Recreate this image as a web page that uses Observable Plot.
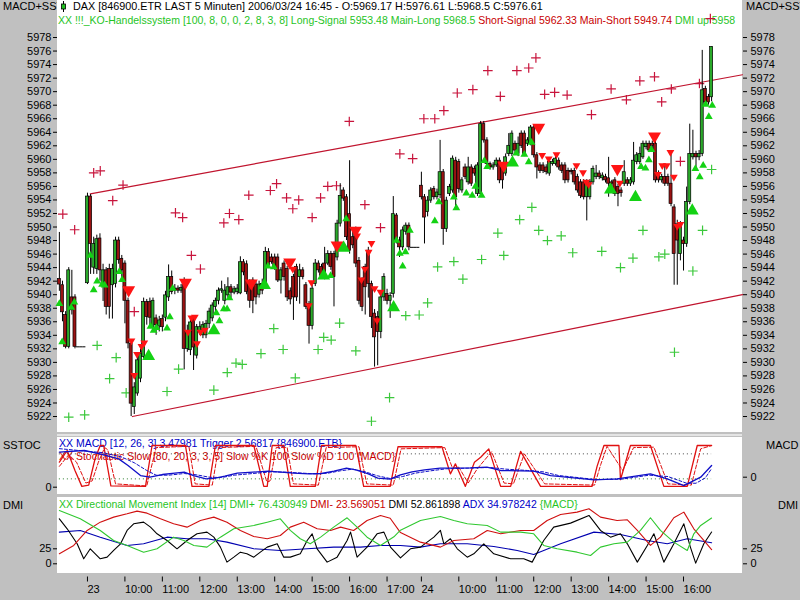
<!DOCTYPE html>
<html><head><meta charset="utf-8">
<script src="https://cdn.jsdelivr.net/npm/d3@7"></script>
<script src="https://cdn.jsdelivr.net/npm/@observablehq/plot@0.6"></script>
<style>
html,body{margin:0;padding:0;background:#c0c0c0;}
#wrap{position:relative;width:800px;height:600px;overflow:hidden;background:#c0c0c0;font-family:"Liberation Sans",Arial,sans-serif;font-size:11px;color:#000;}
.panel{position:absolute;background:#fff;overflow:hidden;}
.lbl{position:absolute;white-space:nowrap;line-height:12px;}
.sm{font-size:10.5px;}
</style></head><body><div id="wrap"></div>
<script>
// ---------------- DATA ----------------
const barOpen = [5942.3,5941.4,5937.0,5932.3,5939.6,5939.6,5932.3,5932.3,5932.3,5941.7,
5954.5,5944.0,5943.8,5948.3,5941.5,5943.6,5943.8,5941.4,5941.6,5948.0,
5945.3,5944.6,5939.1,5932.7,5923.4,5925.4,5927.6,5930.8,5938.9,5938.9,
5935.2,5936.5,5935.3,5936.4,5936.6,5939.6,5942.6,5940.6,5940.9,5940.6,
5942.1,5932.0,5931.8,5936.4,5931.0,5934.5,5934.0,5934.0,5935.7,5936.5,
5938.2,5939.1,5940.6,5939.1,5939.9,5941.1,5940.3,5940.4,5940.2,5944.8,
5944.5,5941.8,5942.1,5941.5,5940.0,5941.6,5941.6,5946.3,5945.5,5945.5,
5945.5,5942.1,5944.6,5943.8,5940.5,5942.6,5944.1,5942.6,5943.6,5941.4,
5938.6,5935.4,5941.6,5944.6,5944.1,5944.6,5944.6,5946.0,5946.0,5945.5,
5950.5,5955.4,5954.4,5951.9,5948.5,5949.5,5945.0,5942.1,5944.1,5946.5,
5941.6,5937.2,5936.7,5934.5,5939.6,5940.1,5939.1,5940.1,5951.7,5948.0,
5947.0,5949.3,5950.2,5947.0,5947.0,5947.0,5956.1,5954.4,5952.2,5953.9,
5955.6,5954.4,5954.7,5958.1,5949.7,5954.9,5955.4,5959.8,5959.6,5955.4,
5958.8,5956.6,5958.8,5958.6,5954.9,5954.9,5965.2,5962.8,5959.3,5958.8,
5959.1,5959.8,5958.8,5957.9,5960.8,5960.8,5962.3,5960.8,5963.8,5963.8,
5962.3,5962.3,5964.7,5960.6,5959.1,5959.1,5958.8,5957.9,5959.3,5959.3,
5959.8,5959.1,5959.1,5958.3,5958.3,5958.3,5957.4,5956.6,5956.6,5954.4,
5954.4,5956.6,5957.4,5957.9,5957.2,5957.4,5957.2,5956.6,5956.9,5955.9,
5955.4,5956.4,5956.9,5956.4,5956.6,5959.6,5959.6,5960.3,5961.8,5962.3,
5962.3,5962.3,5957.9,5956.9,5957.4,5957.4,5956.4,5952.9,5950.4,5946.0,
5948.0,5947.5,5953.7,5960.3,5960.8,5960.3,5960.8,5970.4,5969.2,5969.17];
const barClose = [5941.5,5937.4,5932.3,5943.6,5937.7,5932.3,5932.3,5932.3,5932.3,5954.5,
5947.5,5947.5,5948.2,5943.6,5943.6,5938.2,5938.2,5943.8,5948.0,5945.1,
5943.6,5939.1,5932.8,5923.9,5926.3,5930.3,5931.3,5938.9,5936.7,5936.6,
5939.1,5935.5,5936.2,5935.2,5939.9,5942.6,5940.4,5940.9,5940.6,5941.0,
5932.0,5934.5,5935.9,5932.2,5935.2,5935.2,5935.5,5935.7,5937.5,5938.4,
5939.1,5940.6,5940.8,5940.6,5941.1,5940.3,5940.8,5940.9,5944.8,5943.3,
5940.4,5939.1,5939.1,5939.6,5941.5,5940.6,5946.3,5944.3,5944.8,5944.1,
5942.1,5943.6,5942.6,5939.6,5939.3,5939.6,5939.6,5943.6,5942.6,5938.2,
5935.4,5940.9,5944.6,5943.6,5942.8,5942.6,5946.0,5944.1,5942.6,5950.5,
5954.6,5954.2,5948.5,5946.5,5947.3,5944.6,5939.1,5938.2,5941.1,5941.6,
5936.7,5933.7,5934.5,5939.6,5942.6,5939.1,5939.8,5951.9,5948.0,5947.0,
5949.5,5950.2,5947.0,5947.0,5947.0,5947.0,5954.4,5951.4,5953.9,5955.4,
5954.4,5955.1,5958.1,5949.7,5953.9,5955.9,5960.1,5954.4,5955.6,5956.9,
5957.4,5958.8,5956.4,5957.9,5959.1,5965.2,5962.8,5959.3,5958.8,5959.1,
5959.8,5956.9,5956.9,5960.3,5962.0,5963.8,5961.3,5962.3,5962.0,5960.8,
5962.8,5964.7,5960.6,5958.8,5958.3,5958.3,5958.1,5959.6,5959.6,5960.1,
5958.8,5958.3,5956.9,5956.9,5958.1,5956.6,5955.4,5954.6,5954.4,5956.6,
5956.6,5958.6,5957.9,5957.4,5957.6,5956.9,5956.4,5956.4,5954.9,5954.9,
5955.0,5958.1,5956.4,5956.9,5959.8,5960.6,5960.8,5962.3,5962.3,5961.3,
5962.0,5956.9,5956.9,5957.4,5956.4,5956.4,5953.4,5946.0,5948.0,5950.4,
5947.5,5953.7,5960.8,5960.8,5960.3,5960.8,5970.2,5968.4,5968.4,5976.61];
const barHigh = [5949.2,5942.0,5937.5,5944.0,5943.6,5940.0,5932.3,5932.3,5932.3,5955.0,
5954.8,5948.5,5948.8,5949.0,5944.5,5944.0,5944.5,5944.5,5948.5,5948.5,
5945.8,5945.0,5939.5,5933.0,5927.0,5931.0,5932.0,5939.5,5939.3,5939.5,
5939.5,5937.0,5936.8,5937.0,5940.5,5944.4,5943.5,5941.5,5941.3,5941.5,
5942.5,5935.5,5936.5,5936.8,5935.6,5936.0,5936.0,5936.2,5938.0,5938.8,
5939.5,5941.0,5942.0,5941.5,5942.5,5941.5,5941.2,5941.5,5945.6,5945.2,
5945.0,5942.2,5942.5,5942.0,5942.0,5942.3,5947.0,5946.8,5946.0,5946.0,
5946.0,5944.0,5945.0,5944.2,5941.0,5943.0,5944.5,5944.5,5944.0,5941.8,
5939.0,5941.4,5945.2,5945.0,5944.5,5947.0,5946.5,5946.4,5946.4,5951.0,
5956.4,5955.8,5954.8,5959.8,5949.5,5950.0,5945.5,5942.5,5944.5,5947.0,
5942.0,5937.8,5937.5,5940.2,5943.1,5940.8,5940.3,5954.5,5952.0,5948.5,
5950.0,5950.6,5950.6,5947.0,5947.0,5947.0,5958.1,5954.8,5954.5,5955.8,
5956.0,5955.6,5962.8,5958.5,5954.4,5956.3,5960.5,5960.3,5960.0,5957.3,
5959.3,5960.3,5959.2,5959.0,5959.5,5965.6,5965.6,5963.2,5959.6,5959.5,
5960.2,5960.2,5959.2,5960.8,5963.8,5964.2,5962.7,5963.3,5964.2,5964.2,
5963.2,5965.0,5965.0,5961.0,5959.5,5959.5,5959.2,5960.0,5960.0,5960.5,
5960.2,5959.5,5959.5,5958.7,5958.6,5958.7,5957.8,5957.0,5957.0,5957.0,
5957.0,5959.0,5959.1,5958.3,5958.0,5957.8,5960.3,5956.9,5957.3,5956.3,
5955.8,5959.8,5957.3,5957.3,5962.5,5961.0,5961.8,5962.7,5962.7,5962.7,
5962.7,5962.7,5958.3,5957.8,5959.3,5957.8,5960.8,5953.3,5951.0,5950.8,
5948.5,5955.9,5965.2,5964.3,5961.2,5961.3,5976.1,5970.8,5969.6,5976.61];
const barLow = [5940.5,5936.0,5932.0,5932.0,5937.0,5932.0,5932.3,5932.3,5932.3,5941.5,
5943.0,5943.0,5943.0,5942.0,5939.0,5937.0,5936.4,5936.4,5941.0,5944.5,
5942.5,5935.7,5932.0,5922.0,5922.3,5925.0,5927.0,5930.5,5935.5,5935.0,
5934.5,5934.0,5934.5,5934.5,5936.0,5939.0,5940.0,5940.0,5940.2,5940.2,
5928.9,5931.5,5931.0,5928.8,5930.5,5934.0,5933.5,5933.5,5935.0,5936.0,
5937.5,5938.5,5940.2,5938.5,5939.5,5939.5,5940.0,5940.0,5940.0,5942.8,
5940.0,5938.0,5937.2,5938.5,5939.5,5940.0,5941.0,5944.0,5944.5,5943.6,
5941.8,5940.1,5942.0,5939.0,5938.5,5936.2,5939.0,5938.6,5942.2,5937.8,
5932.7,5934.8,5941.2,5943.2,5942.4,5942.2,5944.3,5943.6,5938.2,5945.0,
5950.0,5953.8,5948.0,5946.0,5946.8,5944.0,5938.5,5937.5,5937.0,5939.5,
5935.0,5929.3,5929.5,5933.5,5939.0,5938.5,5936.5,5939.5,5947.5,5945.5,
5946.5,5948.8,5946.5,5947.0,5947.0,5947.0,5954.0,5947.5,5951.5,5953.5,
5954.0,5954.0,5954.2,5947.3,5949.2,5954.5,5955.0,5953.0,5955.0,5955.0,
5957.0,5956.2,5956.0,5957.5,5954.5,5954.5,5962.4,5958.8,5958.4,5958.4,
5958.8,5956.4,5955.6,5957.5,5960.4,5960.4,5960.9,5960.4,5961.6,5960.4,
5961.9,5962.0,5960.2,5957.1,5957.9,5957.9,5957.7,5957.5,5959.0,5959.0,
5958.4,5957.9,5956.4,5956.5,5957.7,5956.2,5955.0,5954.2,5954.0,5950.9,
5954.0,5956.2,5957.0,5957.0,5956.8,5956.5,5954.4,5956.0,5954.5,5953.0,
5954.4,5956.0,5956.0,5956.0,5956.2,5959.2,5959.2,5960.0,5961.4,5961.0,
5961.6,5956.5,5956.5,5956.5,5956.0,5956.0,5953.0,5941.4,5941.4,5945.0,
5943.5,5947.0,5953.3,5959.9,5958.7,5959.8,5960.4,5968.0,5968.0,5968.5];

const priceTicks = [5922,5924,5926,5928,5930,5932,5934,5936,5938,5940,5942,5944,5946,5948,5950,
5952,5954,5956,5958,5960,5962,5964,5966,5968,5970,5972,5974,5976,5978];
const timeTicks = [9,21,33,45,57,69,81,93,105,116,128,140,152,164,176,188,200];
const timeLabels = ["23","10:00","11:00","12:00","13:00","14:00","15:00","16:00","17:00","24","10:00","11:00","12:00","13:00","14:00","15:00","16:00"];

const upperChannel = [[9.9,5954.9],[218.9,5972.5]];
const lowerChannel = [[23.4,5922.0],[218.9,5940.0]];

const redCross = [[1.1,5951.9],[4.9,5949.6],[11.0,5958.0],[13.1,5958.3],[17.1,5953.9],[20.4,5956.2],[24.0,5937.5],[37.2,5952.1],[39.5,5951.4],[42.3,5945.8],[45.2,5943.8],[52.7,5950.6],[54.5,5952.0],[57.5,5951.1],[60.7,5954.7],[67.6,5955.4],[69.6,5956.4],[72.8,5954.3],[74.8,5952.7],[76.7,5954.0],[81.0,5951.4],[83.7,5954.3],[86.0,5956.0],[88.8,5956.1],[92.9,5965.6],[97.9,5953.3],[102.9,5949.9],[109.1,5960.8],[113.2,5960.1],[116.8,5966.0],[120.3,5966.0],[123.2,5967.2],[127.5,5969.8],[132.5,5970.3],[137.3,5973.1],[141.3,5969.3],[146.6,5973.1],[150.4,5973.5],[152.7,5975.0],[155.5,5969.6],[158.7,5969.9],[162.7,5969.5],[170.5,5966.6],[176.8,5970.4],[181.7,5968.8],[186.0,5971.6],[190.7,5972.2],[193.0,5968.5],[196.1,5970.4],[199.0,5959.7],[205.1,5971.2],[208.6,5980.8]];
const greenCross = [[3.0,5921.9],[8.1,5922.25],[12.1,5932.5],[16.1,5927.6],[18.2,5930.7],[21.4,5925.5],[34.5,5925.7],[38.2,5929.0],[49.5,5925.9],[53.8,5928.5],[56.6,5929.9],[58.6,5929.7],[64.6,5931.3],[68.7,5935.0],[71.7,5931.9],[75.6,5927.7],[82.9,5931.9],[84.7,5933.7],[87.1,5933.3],[89.8,5935.8],[95.0,5931.7],[100.0,5921.3],[105.8,5924.8],[111.0,5936.9],[115.3,5937.0],[118.0,5938.8],[121.2,5944.1],[126.4,5944.9],[129.3,5942.3],[135.3,5945.2],[140.5,5949.1],[142.4,5945.8],[147.5,5951.1],[151.4,5952.9],[153.6,5949.5],[156.4,5948.0],[160.8,5948.7],[164.5,5946.2],[173.8,5946.4],[179.8,5944.0],[183.8,5945.4],[187.0,5949.5],[192.1,5945.6],[194.0,5946.0],[197.1,5931.5],[203.0,5943.5],[206.1,5949.5],[209.0,5958.5]];

const shortBig = [[22.2,5940.7],[40.4,5941.8],[61.5,5941.7],[73.8,5944.8],[89.0,5947.3],[94.9,5949.5],[142.4,5959.1],[153.6,5964.7],[178.8,5958.6],[190.7,5963.4]];
const shortSmall = [[23.1,5933.2],[24.0,5928.1],[24.9,5931.2],[26.3,5932.4],[27.2,5932.9],[41.2,5934.5],[42.3,5936.6],[43.4,5936.7],[44.1,5932.8],[45.2,5934.5],[46.6,5934.8],[74.8,5943.8],[79.9,5938.4],[80.8,5941.8],[95.4,5948.7],[96.8,5942.2],[97.9,5943.8],[99.1,5946.3],[100.0,5947.6],[101.0,5940.9],[101.8,5936.2],[102.9,5940.4],[154.7,5960.6],[156.8,5960.1],[159.3,5960.7],[165.7,5959.1],[167.8,5958.05],[168.8,5956.65],[169.6,5956.3],[179.6,5956.5],[191.8,5957.8],[193.2,5959.1],[194.6,5959.1],[195.8,5961.05],[196.9,5957.4],[198.0,5950.1],[199.0,5950.4]];
const longBig = [[28.6,5930.9],[49.5,5934.7],[65.7,5941.4],[84.7,5942.8],[91.1,5946.9],[107.1,5938.1],[145.2,5959.5],[176.6,5955.5],[184.6,5954.4],[202.8,5952.4]];
const longSmall = [[0.0,5938.65],[0.9,5933.0],[3.8,5938.1],[4.8,5938.9],[9.9,5945.8],[11.0,5940.7],[12.1,5942.0],[13.7,5941.5],[14.5,5941.4],[19.2,5943.4],[20.1,5942.2],[29.2,5935.3],[30.2,5934.7],[31.1,5935.1],[34.5,5935.05],[35.4,5936.7],[36.3,5940.9],[50.3,5937.3],[51.3,5936.1],[52.7,5937.9],[53.75,5937.9],[54.5,5939.5],[66.8,5944.2],[68.7,5944.1],[86.9,5942.8],[91.9,5951.2],[108.0,5948.0],[109.1,5946.1],[110.0,5944.2],[110.9,5946.3],[112.3,5949.5],[120.3,5950.9],[121.6,5953.7],[126.4,5954.4],[127.2,5952.8],[130.4,5955.0],[132.3,5954.65],[133.3,5956.0],[135.3,5954.65],[136.2,5959.8],[137.1,5958.9],[146.4,5960.9],[149.0,5960.7],[150.4,5959.6],[151.3,5962.5],[186.4,5958.9],[187.8,5958.7],[188.9,5959.9],[189.7,5961.4],[203.8,5958.6],[205.2,5957.4],[206.3,5959.1],[207.1,5968.1],[208.1,5966.3],[209.2,5967.95]];

const macdLine = [[0,7.45],[8,7.95],[13,6.95],[19,5.46],[22,3.48],[26,0.5],[29,0.01],[33,0.8],[37,1.2],[40,1.5],[43,0.5],[47,-0.49],[50,-0.29],[53,0.31],[57,1.2],[62,1.5],[67,1.8],[71,1.5],[75,1.2],[80,1.0],[84,1.1],[88,1.8],[92,2.7],[95,2.2],[99,1.0],[102,-0.3],[106,-0.6],[109.3,0.7],[113,1.6],[117,2.2],[122,2.7],[131.7,2.8],[137,3.0],[141.4,2.0],[152,1.8],[157.4,0.5],[168.1,-0.5],[171.3,-0.8],[178.7,-0.5],[189.4,1.0],[194.8,-0.5],[200.1,-2.5],[203.3,-1.0],[205.5,0],[209,3.48]];
const triggerLine = [[0,8.5],[8,7.8],[14,7.3],[20,6.0],[24,4.3],[28,2.0],[31,0.6],[35,0.6],[40,1.1],[44,0.7],[48,0.0],[52,-0.1],[56,0.6],[62,1.1],[68,1.6],[73,1.5],[78,1.2],[82,1.0],[86,1.2],[90,1.9],[94,2.4],[98,1.6],[102,0.4],[106,-0.4],[110,0.2],[114,1.2],[119,1.9],[124,2.5],[131,2.7],[138,2.9],[143,2.4],[150,2.0],[155,1.6],[160,0.5],[168,-0.3],[172,-0.7],[180,-0.6],[189,0.6],[195,0.2],[201,-1.8],[204,-1.8],[207,-0.2],[209,2.57]];
const stochK = [[0,60],[2.5,88],[5,40],[7.2,2],[9.4,5],[11.5,70],[13.1,100],[14.2,100],[16.5,3],[27.6,2],[29.7,100],[40.4,100],[42.5,2],[47.9,2],[50,100],[62.3,100],[65.5,2],[66.6,2],[68.2,100],[71.9,100],[74,2],[82,2],[84,100],[95,100],[97.5,2],[106,2],[108.5,97],[122.6,97],[125.3,32],[126.9,56],[130.1,2],[133,60],[135,72],[137.6,92],[141.4,2],[144.6,2],[147.8,86],[154.2,2],[170.7,2],[172.3,50],[174.5,100],[179.3,100],[179.8,18],[183,100],[189.4,100],[193.7,2],[201.2,2],[204.4,100],[209,100]];
const stochD = [[0,50],[3,78],[5.5,60],[8.5,10],[10.5,15],[12.5,60],[14.5,95],[15.5,90],[18,8],[28,3],[31,95],[41.5,98],[43.5,8],[49,5],[51,95],[63,98],[66.5,12],[67.5,15],[69.5,95],[73,95],[75,8],[83,5],[85.5,95],[96,97],[98.5,8],[107,5],[109.5,92],[123.5,95],[126,45],[128,48],[131,10],[134,45],[138.5,85],[142.5,10],[145.5,8],[149,80],[155.5,8],[171.5,5],[173.5,55],[175.5,98],[180.5,40],[184,95],[190.5,96],[195,8],[202.5,5],[205.5,92],[209,100]];

const dmiPlus = [[0,88.9],[6.7,75],[13.1,55.6],[17.4,38.9],[21.7,30.6],[27,19.4],[31.3,25],[36.6,44.4],[39.9,38.9],[43.1,30.6],[47.3,27.8],[51.6,44.4],[55.9,58.3],[62.3,63.9],[66.6,69.4],[70.8,75],[74,55.6],[77.2,41.7],[80.4,33.3],[83.7,44.4],[87.9,61.1],[92.2,76.7],[95.4,61.1],[98.6,44.4],[102.9,30.6],[107.2,45],[109.3,56],[115.7,72.2],[122.1,78.9],[126.4,72.2],[130.7,66.7],[137.1,63.9],[141.4,52.8],[147.8,52.8],[152,50],[155.2,30.6],[159.5,25],[165.9,19.4],[170.2,13.9],[173.4,27.8],[177.7,33.3],[182,36.1],[186.2,55.6],[189.4,76.7],[192.6,55.6],[196.9,36.1],[201.2,22.2],[203.3,50],[205.5,63.9],[209,76.4]];
const dmiMinus = [[0,16.7],[4.6,30.6],[8.9,55.6],[13.1,69.4],[17.4,77.8],[21.7,83.3],[24.9,87.8],[28.1,84.4],[32.4,75],[36.6,66.7],[40.9,61.1],[45.2,72.2],[49.5,77.8],[53.7,69.4],[58,55.6],[62.3,45.6],[66.6,41.7],[70.8,47.2],[74,61.1],[78.3,69.4],[82.6,58.3],[86.9,55.6],[90.1,61.1],[94.3,55.6],[98.6,72.2],[102.9,80.6],[106,76],[109.3,52],[115.7,36.1],[122.1,27.8],[126.4,38.9],[132.8,41.7],[137.1,55.6],[141.4,50],[147.8,55.6],[152,55.6],[156.3,72.2],[160.6,82.2],[165.9,86.1],[169.7,91.7],[173.4,77.8],[178.7,72.2],[182,73.3],[185.2,55.6],[189.4,30.6],[192.6,44.4],[196.9,76.7],[200.1,86.1],[203.3,58.3],[206.5,38.9],[209,23.6]];
const dmiLine = [[0,75],[2.5,58.3],[5.7,33.3],[7.8,8.3],[9.9,25],[13.1,8.3],[15.3,11.1],[17.4,22.2],[19.6,33.3],[21.7,55.6],[23.8,66.7],[27,69.4],[29.2,61.1],[31.3,50],[34.5,38.9],[37.7,25],[40.9,38.9],[44.1,50],[47.3,52.8],[49.5,44.4],[51.6,27.8],[53.7,2.8],[55.9,11.1],[58,19.4],[60.1,16.7],[62.3,11.1],[64.4,19.4],[66.6,27.8],[69.8,33.3],[71.9,11.1],[74,11.1],[77.2,16.7],[79.4,38.9],[81,50],[82.6,25],[85.8,2.8],[89,11.1],[92.2,38.9],[93.3,52.8],[95.4,11.1],[98.6,27.8],[101.8,50],[104,52.8],[106.1,27.8],[109.3,10],[112.5,25],[115.7,27.8],[120,44.4],[122.1,55.6],[123.2,33.3],[125.3,41.7],[127.5,25],[130.7,11.1],[132.8,16.7],[136,33.3],[139.2,16.7],[144.6,8.3],[148.8,8.3],[151.5,2.8],[155.2,38.9],[158.4,61.1],[163.8,67.8],[169.7,80.6],[173.4,55.6],[176.6,44.4],[179.8,50],[182,33.3],[185.2,2.8],[188.4,30.6],[190.5,50],[193.7,2.8],[196.9,33.3],[200.1,66.7],[202.2,27.8],[203.9,1.1],[206.5,33.3],[209,52.9]];
const adxLine = [[0,52.8],[6.7,55.6],[13.1,44.4],[21.7,30.6],[27,33.3],[34.5,44.4],[40.9,41.7],[47.3,41.7],[53.7,36.1],[62.3,25],[70.8,22.2],[79.4,25],[87.9,27.8],[96.5,27.8],[102.9,30.6],[109.3,30.6],[115.7,27.8],[122.1,33.3],[130.7,33.3],[139.2,28.9],[146.7,22.2],[152,15.6],[160.6,33.3],[171.3,52.8],[179.8,48.9],[188.4,38.9],[194.8,33.3],[201.2,41.7],[209,35]];

// ---------------- LAYOUT ----------------
const wrap = document.getElementById("wrap");
const FONT = '"Liberation Sans", Arial, sans-serif';
const GREEN_T = "#1fc41f", RED_T = "#c80000", BLUE_T = "#0000c8";
wrap.innerHTML = `
<div class="lbl" style="left:3px;top:0px">MACD+SSTOC</div>
<div class="lbl" style="left:746px;top:0px">MACD+SSTOC</div>
<div class="lbl" style="left:3px;top:439px">SSTOC</div>
<div class="lbl" style="left:3px;top:499px">DMI</div>
<div class="lbl" style="left:766px;top:439px">MACD</div>
<div class="lbl" style="left:778px;top:499px">DMI</div>
<div class="panel" style="left:57px;top:0px;width:685px;height:432px">
  <svg style="position:absolute;left:3px;top:1px" width="8" height="11"><line x1="3.5" y1="0" x2="3.5" y2="11" stroke="#000"/><rect x="1.5" y="3" width="4" height="5" fill="#22c022" stroke="#000" stroke-width="0.8"/></svg>
  <div class="lbl" style="left:16px;top:0px;font-size:10.8px">DAX [846900.ETR LAST 5 Minuten] 2006/03/24 16:45 - O:5969.17 H:5976.61 L:5968.5 C:5976.61</div>
  <div class="lbl sm" style="left:1px;top:14px"><span style="color:${GREEN_T}">XX !!!_KO-Handelssystem [100, 8, 0, 0, 2, 8, 3, 8] Long-Signal 5953.48 Main-Long 5968.5</span> <span style="color:${RED_T}">Short-Signal 5962.33 Main-Short 5949.74</span> <span style="color:${GREEN_T}">DMI up 5958</span></div>
</div>
<div style="position:absolute;left:57px;top:434px;width:685px;height:2px;background:#e4e4e4"></div>
<div class="panel" style="left:57px;top:437px;width:685px;height:57px">
  <div class="lbl sm" style="left:2px;top:0px;color:${BLUE_T}">XX MACD [12, 26, 3] 3.47981 Trigger 2.56817 {846900.ETB}</div>
  <div class="lbl sm" style="left:2px;top:13px;color:${RED_T}">XX Stochastic Slow [80, 20, 3, 3, 5] Slow %K 100 Slow %D 100 {MACD}</div>
</div>
<div class="panel" style="left:57px;top:497px;width:685px;height:76px">
  <div class="lbl sm" style="left:2px;top:1px"><span style="color:${GREEN_T}">XX Directional Movement Index [14] DMI+ 76.430949</span> <span style="color:${RED_T}">DMI- 23.569051</span> <span style="color:#000">DMI 52.861898</span> <span style="color:${BLUE_T}">ADX 34.978242</span> <span style="color:${GREEN_T}">{MACD}</span></div>
</div>`;

function place(el, top) {
  el.style.position = "absolute"; el.style.left = "0px"; el.style.top = top + "px";
  wrap.appendChild(el);
}
const baseStyle = {background: "transparent", fontFamily: FONT, fontSize: "11px", color: "#000", overflow: "visible"};
const xDomain = [-0.6, 218.9];
const M = {marginLeft: 57, marginRight: 58};

const bars = barOpen.map((o, i) => ({i, o, c: barClose[i], h: barHigh[i], l: barLow[i]}));
const upBars = bars.filter(d => d.c > d.o), dnBars = bars.filter(d => d.c < d.o), flatBars = bars.filter(d => d.c === d.o);
const UP = "#2aaa2a", DN = "#9a1212";

// Main price chart
const main = Plot.plot({
  width: 800, height: 432, ...M, marginTop: 0, marginBottom: 0,
  style: baseStyle,
  x: {domain: xDomain, axis: null},
  y: {domain: [5919.64, 5983.47], axis: null},
  marks: [
    Plot.axisY({anchor: "left", ticks: priceTicks, tickSize: 4, tickPadding: 2, tickFormat: d => String(d), label: null}),
    Plot.axisY({anchor: "right", ticks: priceTicks, tickSize: 4, tickPadding: 4, tickFormat: d => String(d), label: null}),
    Plot.line(upperChannel, {stroke: "#c0142e", strokeWidth: 1.2}),
    Plot.line(lowerChannel, {stroke: "#c0142e", strokeWidth: 1.2}),
    Plot.dot(redCross, {symbol: "plus", r: 3.2, stroke: "#c8143c", strokeWidth: 1.2}),
    Plot.dot(greenCross, {symbol: "plus", r: 3.2, stroke: "#3cc83c", strokeWidth: 1.2}),
    Plot.ruleX(bars, {x: "i", y1: "l", y2: "h", stroke: "#000", strokeWidth: 1}),
    Plot.rect(upBars, {x1: d => d.i - 0.48, x2: d => d.i + 0.48, y1: "o", y2: "c", fill: UP, stroke: "#000", strokeWidth: 0.7}),
    Plot.rect(dnBars, {x1: d => d.i - 0.48, x2: d => d.i + 0.48, y1: "o", y2: "c", fill: DN, stroke: "#000", strokeWidth: 0.7}),
    Plot.ruleY(flatBars, {y: "c", x1: d => d.i - 0.5, x2: d => d.i + 0.5, stroke: "#000"}),
    Plot.dot(shortBig, {symbol: "triangle", rotate: 180, r: 4.8, fill: "#ff1414", stroke: "none"}),
    Plot.dot(shortSmall, {symbol: "triangle", rotate: 180, r: 2.9, fill: "#ff1414", stroke: "none"}),
    Plot.dot(longBig, {symbol: "triangle", r: 4.8, fill: "#14d214", stroke: "none"}),
    Plot.dot(longSmall, {symbol: "triangle", r: 2.9, fill: "#14d214", stroke: "none"})
  ]
});
place(main, 0);

// Stochastic (left scale)
const stoch = Plot.plot({
  width: 800, height: 57, ...M, marginTop: 0, marginBottom: 0,
  style: baseStyle,
  x: {domain: xDomain, axis: null},
  y: {domain: [-17.5, 119.2], axis: null},
  marks: [
    Plot.axisY({anchor: "left", ticks: [0], tickSize: 4, tickPadding: 2, tickFormat: d => String(d), label: null}),
    Plot.ruleY([80], {x1: 0, x2: 209, stroke: "#444", strokeDasharray: "1,3"}),
    Plot.ruleY([20], {x1: 0, x2: 209, stroke: "#2a7a2a", strokeDasharray: "1,3"}),
    Plot.line(stochD, {stroke: "#e01010", strokeWidth: 1, strokeDasharray: "4,2"}),
    Plot.line(stochK, {stroke: "#e01010", strokeWidth: 1.3})
  ]
});
place(stoch, 437);

// MACD (right scale)
const macd = Plot.plot({
  width: 800, height: 57, ...M, marginTop: 0, marginBottom: 0,
  style: baseStyle,
  x: {domain: xDomain, axis: null},
  y: {domain: [-5.15, 11.82], axis: null},
  marks: [
    Plot.axisY({anchor: "right", ticks: [0], tickSize: 4, tickPadding: 4, tickFormat: d => String(d), label: null}),
    Plot.line(triggerLine, {stroke: "#1010c8", strokeWidth: 1, strokeDasharray: "3,2"}),
    Plot.line(macdLine, {stroke: "#1010c8", strokeWidth: 1.3})
  ]
});
place(macd, 437);

// DMI + time axis (plot bottom placed at y=576.5 so the x ticks start there)
const labelOf = new Map(timeTicks.map((t, k) => [t, timeLabels[k]]));
const dmi = Plot.plot({
  width: 800, height: 103, ...M, marginTop: 0, marginBottom: 23.5,
  style: baseStyle,
  x: {domain: xDomain, axis: null},
  y: {domain: [-22, 110.5], axis: null},
  marks: [
    Plot.axisY({anchor: "left", ticks: [0, 25], tickSize: 4, tickPadding: 2, tickFormat: d => String(d), label: null}),
    Plot.axisY({anchor: "right", ticks: [0, 25], tickSize: 4, tickPadding: 4, tickFormat: d => String(d), label: null}),
    Plot.axisX({anchor: "bottom", ticks: timeTicks, tickSize: 5, tickPadding: 3, textAnchor: "start", tickFormat: d => labelOf.get(d), label: null}),
    Plot.line(adxLine, {stroke: "#0000b0", strokeWidth: 1.1}),
    Plot.line(dmiLine, {stroke: "#000", strokeWidth: 1.1}),
    Plot.line(dmiMinus, {stroke: "#d01010", strokeWidth: 1.1}),
    Plot.line(dmiPlus, {stroke: "#30c830", strokeWidth: 1.1})
  ]
});
place(dmi, 497);
</script></body></html>
